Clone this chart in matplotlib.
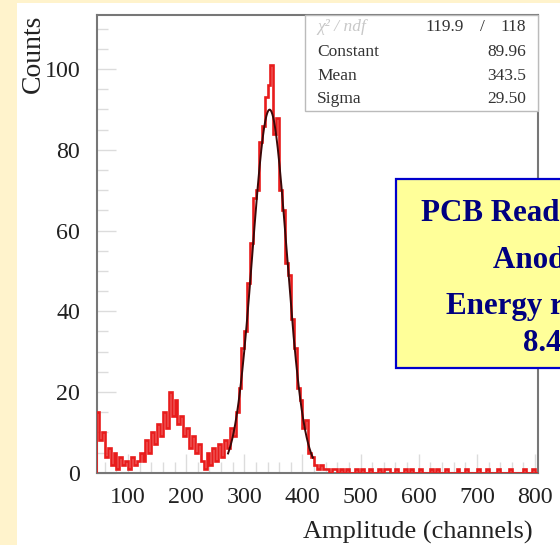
import numpy as np
import matplotlib
matplotlib.use("Agg")
import matplotlib.pyplot as plt
from matplotlib.patches import Rectangle
from matplotlib.ticker import MultipleLocator

# ---------------- data ----------------
bin_start = 45
bin_width = 5
counts_low = [15, 8, 10, 4, 6, 2, 5, 1, 4, 2,
              3, 1, 4, 2, 3, 5, 3, 8, 5, 10,
              7, 12, 9, 15, 11, 20, 14, 18, 12, 14,
              9, 11, 6, 9, 5, 7, 3, 1, 5, 2,
              6, 3, 7, 4, 8, 6, 11, 9, 15, 21,
              31, 35, 47, 57, 68, 70, 82, 86, 93, 96,
              101, 84, 88, 70, 65, 52, 49, 38, 31, 21,
              18, 11, 13, 5, 4, 2]
counts_tail = [1, 2, 1, 1, 0, 1, 1, 0, 1, 0,
               1, 0, 0, 1, 0, 1, 0, 0, 1, 0,
               0, 1, 0, 1, 1, 0, 0, 1, 0, 0,
               1, 0, 1, 0, 0, 1, 0, 0, 0, 1,
               0, 1, 0, 0, 1, 0, 0, 0, 1, 0,
               0, 1, 0, 0, 0, 1, 0, 0, 1, 0,
               0, 0, 1, 0, 0, 0, 1, 0, 0, 0,
               0, 1, 0, 0, 1, 0]
counts = np.array(counts_low + counts_tail, dtype=float)
edges = bin_start + bin_width * np.arange(len(counts) + 1)

fit_constant = 89.96
fit_mean = 343.5
fit_sigma = 29.50
fit_range = (272, 418)
chi2, ndf = 119.9, 118

x_ticks = [100, 200, 300, 400, 500, 600, 700, 800]
y_ticks = [0, 20, 40, 60, 80, 100]

box_lines = ["PCB Readout Board", "Anode Pads", "Energy resolution", "8.4%"]

# ---------------- figure ----------------
W, H = 560, 545
fig = plt.figure(figsize=(W / 100, H / 100), dpi=100)
fig.patch.set_facecolor("#fff3cc")

def fx(px):
    return px / W

def fy(py):
    return 1 - py / H

# white panel (background axes)
bg = fig.add_axes([fx(17), 0, 1 - fx(17), fy(3)], zorder=-5)
bg.set_facecolor("white")
bg.set_axis_off()
bg.add_patch(Rectangle((0, 0), 1, 1, transform=bg.transAxes, facecolor="white",
                       edgecolor="none"))

serif = ["Liberation Serif", "DejaVu Serif"]

ax = fig.add_axes([fx(97), fy(472.7), fx(537.7) - fx(97), fy(15) - fy(472.7)], zorder=1)
ax.set_facecolor("white")
ax.stairs(counts, edges, color="#e81c1c", lw=1.9, zorder=3)

xf = np.linspace(fit_range[0], fit_range[1], 300)
yf = fit_constant * np.exp(-0.5 * ((xf - fit_mean) / fit_sigma) ** 2)
ax.plot(xf, yf, color="#3a0808", lw=1.4, zorder=4)

ax.set_xlim(46.6, 804.6)
ax.set_ylim(0, 113.4)
ax.set_xticks(x_ticks)
ax.set_yticks(y_ticks)
ax.xaxis.set_minor_locator(MultipleLocator(20))
ax.yaxis.set_minor_locator(MultipleLocator(5))
ax.tick_params(which="both", direction="in", color="#dcdcdc", width=1.0,
               labelsize=17.3, labelcolor="#222222", top=False, right=False)
ax.tick_params(which="major", length=14)
ax.tick_params(which="minor", length=8)
ax.tick_params(axis="y", pad=12)
ax.tick_params(axis="x", pad=10)
for lab in ax.get_xticklabels() + ax.get_yticklabels():
    lab.set_family(serif)
for sp in ax.spines.values():
    sp.set_color("#777777")
    sp.set_linewidth(1.5)

fig.text(fx(533), fy(532), "Amplitude (channels)", ha="right", va="center",
         fontsize=19, family=serif, color="#222222")
fig.text(fx(33), fy(15), "Counts", ha="center", va="top", rotation=90,
         fontsize=20, family=serif, color="#222222")

# stats box
fig.patches.append(Rectangle((fx(305), fy(111)), fx(538) - fx(305), fy(15) - fy(111),
                             transform=fig.transFigure, facecolor="white",
                             edgecolor="#bbbbbb", lw=1.0, zorder=5))
st = dict(fontsize=12.5, family=serif, va="center", zorder=6)
fig.text(fx(317), fy(27), "χ² / ndf", color="#c8c8c8", style="italic", ha="left", **st)
fig.text(fx(464), fy(27), f"{chi2:.1f}", color="#333333", ha="right", **st)
fig.text(fx(482), fy(27), "/", color="#333333", ha="center", **st)
fig.text(fx(526), fy(27), f"{ndf}", color="#333333", ha="right", **st)
rows = [("Constant", f"{fit_constant:.2f}", 52),
        ("Mean", f"{fit_mean:.1f}", 76),
        ("Sigma", f"{fit_sigma:.2f}", 99)]
for name, val, yy in rows:
    fig.text(fx(317), fy(yy), name, color="#333333", ha="left", **st)
    fig.text(fx(526), fy(yy), val, color="#333333", ha="right", **st)

# yellow annotation box (cut by the right edge, as in the reference)
fig.patches.append(Rectangle((fx(395.7), fy(368)), fx(760) - fx(395.7), fy(179) - fy(368),
                             transform=fig.transFigure, facecolor="#ffff99",
                             edgecolor="#0000cc", lw=1.6, zorder=7))
bx = [(420.7, 221), (493, 268), (445.7, 314), (523, 351)]
for txt, (px, py) in zip(box_lines, bx):
    fig.text(fx(px), fy(py), txt, ha="left", va="baseline", fontsize=22.3,
             fontweight="bold", family=serif, color="#000080", zorder=8)

fig.savefig("out.png", dpi=100, facecolor=fig.get_facecolor())
